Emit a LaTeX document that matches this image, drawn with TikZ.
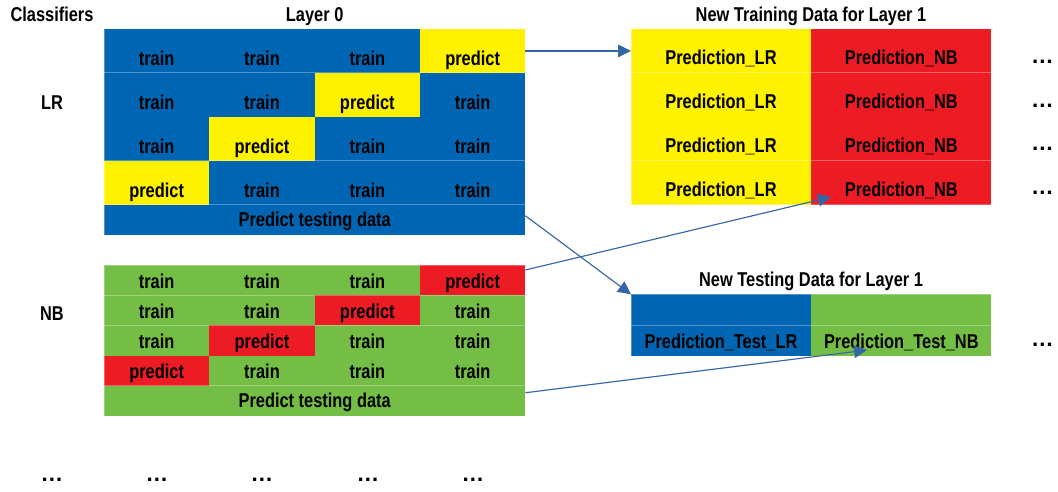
\documentclass[tikz,border=0pt]{standalone}
\usepackage{fontspec}
\setmainfont{Liberation Sans}[FakeStretch=0.82]
\newfontfamily\dotfont{Liberation Sans}
\usetikzlibrary{arrows.meta}
\definecolor{cblue}{RGB}{0,101,179}
\definecolor{cyellow}{RGB}{255,242,0}
\definecolor{cred}{RGB}{237,28,36}
\definecolor{cgreen}{RGB}{116,190,69}
\definecolor{carrow}{RGB}{52,101,164}
\begin{document}
\begin{tikzpicture}[x=0.75pt,y=-0.75pt,
  font=\fontsize{15pt}{18pt}\selectfont\bfseries,
  cell/.style={anchor=north west,inner sep=0pt,outer sep=0pt,text=black},
  gcol/.style={minimum width=79pt},
  tcol/.style={minimum width=135pt},
  lrrow/.style={minimum height=32.93pt,text height=27.68pt,text depth=5.25pt},
  nbrow/.style={minimum height=22.65pt,text height=17.4pt,text depth=5.25pt},
  ptdrow/.style={minimum height=22.7pt,text height=16.2pt,text depth=6.5pt},
  trrow/.style={minimum height=32.93pt,text height=26.93pt,text depth=6pt},
  terowa/.style={minimum height=23.4pt,text height=17.6pt,text depth=5.8pt},
  terowb/.style={minimum height=22.9pt,text height=17.1pt,text depth=5.8pt},
  lbl/.style={anchor=base,inner sep=0pt,text=black},
  dotsty/.style={anchor=base,inner sep=0pt,text=black,font=\dotfont\fontsize{17pt}{20pt}\selectfont\bfseries},
  sep/.style={draw=white,draw opacity=0.3,line width=0.75pt},
  arr/.style={draw=carrow,line width=0.85pt,-{Triangle[length=9.75pt,width=9.5pt]}}
]
\useasboundingbox (0,0) rectangle (1058,492);

% headers
\node[lbl] (hcls) at (52,21.7) {Classifiers};
\node[lbl] (hl0) at (314.67,21.7) {Layer 0};
\node[lbl] (htr) at (811,21.7) {New Training Data for Layer 1};
\node[lbl] (hte) at (811,286.7) {New Testing Data for Layer 1};
\node[lbl] (llr) at (52,110) {LR};
\node[lbl] (lnb) at (52,320) {NB};

% LR grid
\fill[cblue] (104,29) rectangle (525.33,235);
\foreach \r in {1,...,4}{
  \foreach \c in {1,...,4}{
    \ifnum\numexpr\c+\r\relax=5
      \node[cell,gcol,lrrow,fill=cyellow] (lr-\r-\c) at ({104+(\c-1)*105.333},{29+(\r-1)*43.9}) {predict};
    \else
      \node[cell,gcol,lrrow] (lr-\r-\c) at ({104+(\c-1)*105.333},{29+(\r-1)*43.9}) {train};
    \fi
  }
}
\node[cell,minimum width=316pt,ptdrow] (lrptd) at (104,204.6) {Predict testing data};
\draw[sep] (lr-2-1.north west) -- (lr-2-4.north east);
\draw[sep] (lr-4-1.north west) -- (lr-4-4.north east);
\draw[sep] (lrptd.north west) -- (lrptd.north east);
\draw[sep] (104,29) rectangle (525.33,235);

% NB grid
\fill[cgreen] (104,265) rectangle (525.33,416);
\foreach \r in {1,...,4}{
  \foreach \c in {1,...,4}{
    \ifnum\numexpr\c+\r\relax=5
      \node[cell,gcol,nbrow,fill=cred] (nb-\r-\c) at ({104+(\c-1)*105.333},{265+(\r-1)*30.2}) {predict};
    \else
      \node[cell,gcol,nbrow] (nb-\r-\c) at ({104+(\c-1)*105.333},{265+(\r-1)*30.2}) {train};
    \fi
  }
}
\node[cell,minimum width=316pt,ptdrow] (nbptd) at (104,385.8) {Predict testing data};
\draw[sep] (nb-2-1.north west) -- (nb-2-4.north east);
\draw[sep] (nb-3-1.north west) -- (nb-3-4.north east);
\draw[sep] (nbptd.north west) -- (nbptd.north east);
\draw[sep] (104,265) rectangle (525.33,416);

% New training data
\fill[cyellow] (631,29) rectangle (811.33,204.6);
\fill[cred] (811.33,29) rectangle (991,204.6);
\foreach \r in {1,...,4}{
  \node[cell,tcol,trrow] (tr-\r-1) at (631,{29+(\r-1)*43.9}) {Prediction\_LR};
  \node[cell,tcol,trrow] (tr-\r-2) at (811.33,{29+(\r-1)*43.9}) {Prediction\_NB};
  \node[dotsty] (trd-\r) at (1042.5,{63.5+(\r-1)*43.6}) {…};
}
\draw[sep] (tr-2-1.north west) -- (tr-2-2.north east);
\draw[sep] (tr-4-1.north west) -- (tr-4-2.north east);
\draw[sep] (631,29) rectangle (991,204.6);

% New testing data
\fill[cblue] (631,294.3) rectangle (811.33,356);
\fill[cgreen] (811.33,294.3) rectangle (991,356);
\node[cell,tcol,terowa] (te-1-1) at (631,294.3) {};
\node[cell,tcol,terowa] (te-1-2) at (811.33,294.3) {};
\node[cell,tcol,terowb] (te-2-1) at (631,325.5) {Prediction\_Test\_LR};
\node[cell,tcol,terowb] (te-2-2) at (811.33,325.5) {Prediction\_Test\_NB};
\node[dotsty] (ted) at (1042.5,346.5) {…};
\draw[sep] (te-2-1.north west) -- (te-2-2.north east);
\draw[sep] (631,294.3) rectangle (991,356);

% bottom dots
\foreach \x/\n in {52/a,157/b,262/c,368/d,473/e}{
  \node[dotsty] (bd-\n) at (\x,481.5) {…};
}

% arrows
\draw[arr] (lr-1-4.east) -- (tr-1-1.west);
\draw[arr] ([yshift=3pt]lrptd.east) -- (te-1-1.north west);
\draw[arr] ([yshift=-3.75pt]nb-1-4.north east) -- ([xshift=14.8pt,yshift=5.7pt]tr-4-2.south west);
\draw[arr] ([yshift=6.15pt]nbptd.east) -- ([xshift=41.8pt,yshift=4.5pt]te-2-2.south west);
\end{tikzpicture}
\end{document}
